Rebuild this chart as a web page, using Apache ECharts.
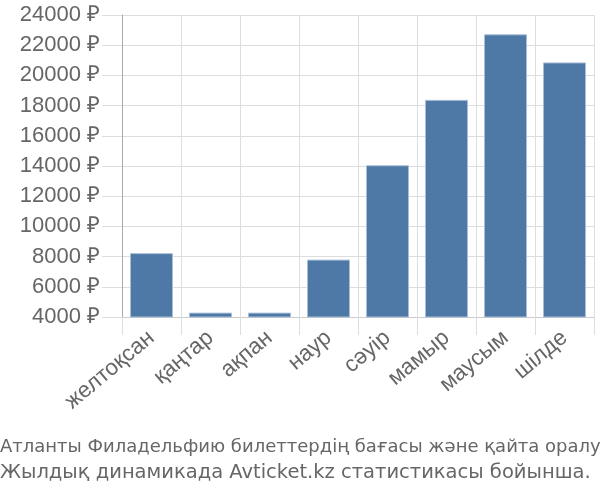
<!DOCTYPE html>
<html><head><meta charset="utf-8">
<script src="https://cdn.jsdelivr.net/npm/echarts@6/dist/echarts.min.js"></script>
<style>html,body{margin:0;padding:0;background:#fff}#c{width:600px;height:500px}</style>
</head><body><div id="c"></div>
<script>
const categories = ['желтоқсан','қаңтар','ақпан','наур','сәуір','мамыр','маусым','шілде'];
const prices = [8230, 4290, 4290, 7800, 14050, 18380, 22720, 20860];
const yTicks = {min: 4000, max: 24000, interval: 2000};
const titleLines = ['Атланты Филадельфию билеттердің бағасы және қайта оралу', 'Жылдық динамикада Avticket.kz статистикасы бойынша.'];

const titleStyle = size => ({fontFamily: 'DejaVu Sans', fontSize: size, fontWeight: 'normal', color: '#666'});
const chart = echarts.init(document.getElementById('c'), null, {renderer: 'canvas'});
chart.setOption({
  animation: false,
  title: [
    {text: titleLines[0], left: 0, top: 438, padding: 0, textStyle: titleStyle(18)},
    {text: titleLines[1], left: 0, top: 463, padding: 0, textStyle: titleStyle(19.5)}
  ],
  grid: {left: 122, right: 6, top: 15, bottom: 183, containLabel: false},
  xAxis: {
    type: 'category', data: categories, boundaryGap: true,
    axisLine: {show: true, lineStyle: {color: '#ccc'}},
    axisTick: {show: true, length: 18, lineStyle: {color: '#ddd'}},
    splitLine: {show: true, lineStyle: {color: '#ddd'}},
    axisLabel: {rotate: 40, fontFamily: 'Liberation Sans', fontSize: 22.5, color: '#666', margin: 18, interval: 0}
  },
  yAxis: {
    type: 'value', min: yTicks.min, max: yTicks.max, interval: yTicks.interval,
    axisLine: {show: true, lineStyle: {color: '#aaa'}},
    axisTick: {show: true, length: 20, lineStyle: {color: '#ddd'}},
    splitLine: {show: true, lineStyle: {color: '#ddd'}},
    axisLabel: {formatter: v => v + ' ₽', fontFamily: 'Liberation Sans', fontSize: 22, color: '#666', margin: 22}
  },
  series: [{
    type: 'bar', data: prices, barWidth: 43,
    itemStyle: {color: '#4e79a7', borderColor: '#a9bed6', borderWidth: 1}
  }]
});
</script></body></html>
